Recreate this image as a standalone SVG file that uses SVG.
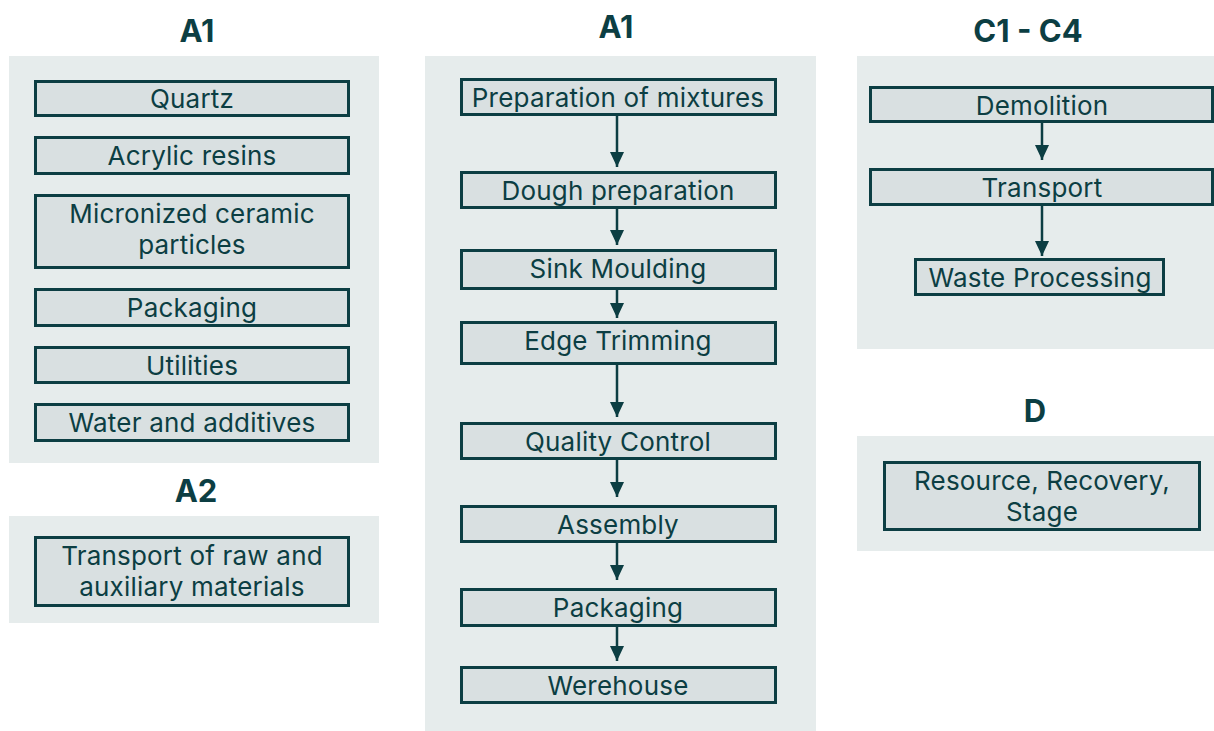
<svg xmlns="http://www.w3.org/2000/svg" width="1214" height="731" viewBox="0 0 1214 731">
<style>
.panel{fill:#e6ecec}
.box{fill:#d9e0e1;stroke:#0c3e43;stroke-width:3}
.t{font-family:Inter,"Liberation Sans",sans-serif;font-size:26px;fill:#0c3e43;text-anchor:middle;letter-spacing:0.2px}
.h{font-family:Inter,"Liberation Sans",sans-serif;font-size:31px;font-weight:700;fill:#0c3e43;text-anchor:middle}
.c{stroke:#0c3e43;stroke-width:2.5;fill:none}
.ah{fill:#0c3e43}
</style>
<defs>
<marker id="arr" markerUnits="userSpaceOnUse" markerWidth="16" markerHeight="16" viewBox="0 0 16 16" refX="15" refY="8" orient="auto">
<path d="M0,1 L15,8 L0,15 Z" class="ah"/>
</marker>
</defs>
<rect width="1214" height="731" fill="#ffffff"/>
<g id="panels">
<rect class="panel" x="9" y="56" width="370" height="407"/>
<rect class="panel" x="9" y="516" width="370" height="107"/>
<rect class="panel" x="425" y="56" width="391" height="675"/>
<rect class="panel" x="857" y="56" width="357" height="293"/>
<rect class="panel" x="857" y="436" width="357" height="115"/>
</g>
<g id="titles">
<text class="h" x="197" y="42">A1</text>
<text class="h" x="196" y="502">A2</text>
<text class="h" x="616" y="38">A1</text>
<text class="h" x="1028" y="42">C1 - C4</text>
<text class="h" x="1035" y="422">D</text>
</g>
<g id="connectors">
<line class="c" x1="617" y1="116" x2="617" y2="167" marker-end="url(#arr)"/>
<line class="c" x1="617" y1="209" x2="617" y2="245" marker-end="url(#arr)"/>
<line class="c" x1="617" y1="290" x2="617" y2="318" marker-end="url(#arr)"/>
<line class="c" x1="617" y1="365" x2="617" y2="417" marker-end="url(#arr)"/>
<line class="c" x1="617" y1="460" x2="617" y2="497" marker-end="url(#arr)"/>
<line class="c" x1="617" y1="543" x2="617" y2="580" marker-end="url(#arr)"/>
<line class="c" x1="617" y1="627" x2="617" y2="661" marker-end="url(#arr)"/>
<line class="c" x1="1042" y1="123" x2="1042" y2="160" marker-end="url(#arr)"/>
<line class="c" x1="1042" y1="206" x2="1042" y2="256" marker-end="url(#arr)"/>
</g>
<g id="n-quartz"><rect class="box" x="35.5" y="81.5" width="313" height="34"/><text class="t" x="192" y="108">Quartz</text></g>
<g id="n-acrylic"><rect class="box" x="35.5" y="137.5" width="313" height="36"/><text class="t" x="192" y="165">Acrylic resins</text></g>
<g id="n-micronized"><rect class="box" x="35.5" y="195.5" width="313" height="72"/><text class="t" x="192" y="223">Micronized ceramic</text><text class="t" x="192" y="254">particles</text></g>
<g id="n-packaging1"><rect class="box" x="35.5" y="289.5" width="313" height="36"/><text class="t" x="192" y="317">Packaging</text></g>
<g id="n-utilities"><rect class="box" x="35.5" y="347.5" width="313" height="35"/><text class="t" x="192" y="375">Utilities</text></g>
<g id="n-water"><rect class="box" x="35.5" y="404.5" width="313" height="36"/><text class="t" x="192" y="432">Water and additives</text></g>
<g id="n-transport-raw"><rect class="box" x="35.5" y="537.5" width="313" height="68"/><text class="t" x="192" y="565">Transport of raw and</text><text class="t" x="192" y="596">auxiliary materials</text></g>
<g id="n-prep"><rect class="box" x="461.5" y="79.5" width="314" height="35"/><text class="t" x="618" y="107">Preparation of mixtures</text></g>
<g id="n-dough"><rect class="box" x="461.5" y="172.5" width="314" height="35"/><text class="t" x="618" y="200">Dough preparation</text></g>
<g id="n-sink"><rect class="box" x="461.5" y="250.5" width="314" height="38"/><text class="t" x="618" y="278">Sink Moulding</text></g>
<g id="n-edge"><rect class="box" x="461.5" y="322.5" width="314" height="41"/><text class="t" x="618" y="350">Edge Trimming</text></g>
<g id="n-quality"><rect class="box" x="461.5" y="423.5" width="314" height="35"/><text class="t" x="618" y="451">Quality Control</text></g>
<g id="n-assembly"><rect class="box" x="461.5" y="506.5" width="314" height="35"/><text class="t" x="618" y="534">Assembly</text></g>
<g id="n-packaging2"><rect class="box" x="461.5" y="589.5" width="314" height="36"/><text class="t" x="618" y="617">Packaging</text></g>
<g id="n-warehouse"><rect class="box" x="461.5" y="667.5" width="314" height="35"/><text class="t" x="618" y="695">Werehouse</text></g>
<g id="n-demolition"><rect class="box" x="870.5" y="87.5" width="342" height="34"/><text class="t" x="1042" y="115">Demolition</text></g>
<g id="n-transport"><rect class="box" x="870.5" y="169.5" width="342" height="35"/><text class="t" x="1042" y="197">Transport</text></g>
<g id="n-waste"><rect class="box" x="915.5" y="259.5" width="248" height="35"/><text class="t" x="1040" y="287">Waste Processing</text></g>
<g id="n-resource"><rect class="box" x="884.5" y="462.5" width="315" height="67"/><text class="t" x="1042" y="490">Resource, Recovery,</text><text class="t" x="1042" y="521">Stage</text></g>
</svg>
